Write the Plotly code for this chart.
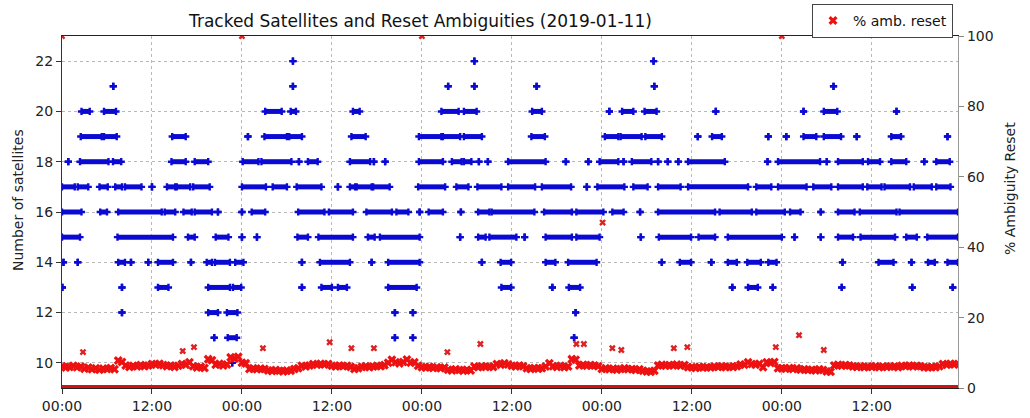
import pandas as pd
import plotly.graph_objects as go

# ---------------- data (hours since 2019-01-09 00:00) ----------------
start_day = "2019-01-09"
x_end_h = 119.5

# satellite count: spans (start_h, end_h) where each count was tracked
sat22 = [(30.8, 30.8), (55.0, 55.0), (78.9, 78.9)]
sat21 = [(6.84, 6.84), (30.8, 30.8), (51.5, 51.5), (55.0, 55.0), (63.3, 63.3), (79.0, 79.0), (102.9, 102.9)]
sat20 = [(2.6, 3.7), (5.6, 7.2), (27.1, 29.3), (30.5, 31.2), (38.8, 39.7), (50.6, 52.9), (53.6, 55.3),
         (62.7, 64.0), (73.0, 73.0), (74.7, 76.2), (77.7, 79.3), (87.2, 87.2), (98.9, 98.9), (101.6, 103.4),
         (111.3, 111.3)]
sat19 = [(2.5, 5.3), (5.6, 7.3), (14.7, 16.5), (24.8, 24.8), (27.0, 30.0), (30.3, 32.0), (38.6, 40.5),
         (47.6, 50.6), (50.8, 53.1), (53.6, 56.0), (62.6, 64.4), (72.4, 74.2), (74.5, 77.3), (77.8, 80.0),
         (84.8, 84.8), (86.7, 88.0), (94.2, 94.2), (96.6, 96.6), (98.9, 100.6), (101.6, 103.9), (106.0, 106.0),
         (110.6, 111.9), (118.1, 118.1)]
sat18 = [(0.84, 0.84), (2.4, 6.2), (6.8, 7.9), (14.6, 16.5), (17.7, 19.5), (24.1, 26.2), (26.6, 30.6),
         (31.6, 31.6), (32.8, 34.1), (38.4, 41.1), (41.6, 41.6), (43.1, 43.1), (47.6, 50.8), (52.0, 53.3),
         (53.6, 54.6), (55.6, 55.6), (56.8, 56.8), (59.5, 64.5), (67.2, 67.2), (70.2, 70.2), (71.7, 74.2),
         (74.9, 74.9), (76.0, 78.6), (79.5, 79.5), (80.8, 80.8), (82.2, 82.2), (83.5, 88.4), (94.1, 94.1),
         (95.5, 101.1), (102.0, 102.0), (103.5, 106.8), (107.5, 109.1), (110.6, 112.6), (115.0, 115.0),
         (116.6, 118.4)]
sat17 = [(0.0, 1.7), (2.1, 3.5), (5.0, 6.1), (7.1, 8.0), (8.4, 10.6), (12.0, 12.0), (14.0, 15.1), (15.3, 17.1),
         (17.5, 19.7), (24.0, 27.2), (28.1, 30.0), (31.3, 34.6), (36.8, 36.8), (38.4, 39.1), (39.3, 41.3),
         (41.5, 43.7), (47.5, 51.1), (52.6, 54.2), (55.4, 58.6), (59.5, 63.1), (64.0, 67.9), (70.0, 70.0),
         (71.4, 75.0), (76.2, 78.1), (79.5, 82.5), (83.5, 91.5), (92.6, 94.6), (95.5, 99.3), (100.2, 102.6),
         (103.5, 106.8), (107.4, 109.3), (109.7, 113.1), (113.6, 116.0), (116.6, 118.5)]
sat16 = [(0.0, 2.6), (5.1, 6.0), (7.5, 13.3), (13.7, 15.1), (16.2, 17.3), (17.7, 20.0), (20.8, 20.8),
         (24.0, 24.0), (25.3, 27.1), (31.5, 35.0), (35.6, 38.8), (40.6, 44.0), (44.6, 46.2), (47.7, 47.7),
         (48.9, 50.8), (53.2, 53.2), (55.5, 57.0), (57.3, 63.0), (64.3, 68.0), (68.6, 72.2), (73.4, 74.9),
         (77.1, 77.1), (79.5, 87.1), (87.7, 92.0), (92.6, 96.4), (97.1, 98.5), (101.2, 101.2), (103.5, 105.7),
         (106.4, 111.3), (111.7, 119.5)]
sat15 = [(0.0, 2.4), (7.4, 14.8), (16.8, 17.7), (20.5, 22.2), (24.0, 24.0), (26.0, 26.0), (31.4, 32.8),
         (34.2, 38.8), (40.8, 41.7), (42.4, 47.7), (53.1, 53.1), (55.5, 56.5), (57.0, 60.6), (61.7, 61.7),
         (64.5, 68.0), (68.6, 71.7), (77.2, 77.2), (79.6, 83.9), (84.9, 87.1), (88.8, 96.0), (97.7, 97.7),
         (101.2, 101.2), (103.5, 105.5), (106.5, 111.1), (112.6, 114.0), (115.4, 119.5)]
sat14 = [(0.2, 0.2), (2.1, 2.1), (7.5, 8.4), (9.2, 9.2), (11.5, 11.5), (12.8, 14.8), (17.2, 17.2), (19.3, 20.0),
         (20.4, 22.4), (23.1, 24.2), (32.0, 32.0), (34.4, 38.4), (41.3, 41.3), (43.5, 47.7), (56.0, 56.0),
         (58.5, 59.9), (64.5, 65.8), (67.5, 71.3), (80.0, 80.0), (82.4, 83.9), (86.6, 86.6), (88.8, 90.0),
         (91.4, 93.2), (94.2, 95.3), (104.1, 104.1), (108.9, 110.9), (113.3, 113.3), (115.5, 116.4),
         (118.1, 119.5)]
sat13 = [(0.05, 0.05), (8.0, 8.0), (12.8, 14.2), (19.5, 22.4), (22.8, 23.9), (32.0, 32.0), (34.6, 36.0),
         (36.8, 38.0), (43.5, 47.3), (58.6, 59.9), (65.4, 65.4), (67.6, 69.1), (89.4, 89.4), (91.5, 92.8),
         (94.8, 94.8), (104.0, 104.0), (113.4, 113.4), (118.8, 118.8)]
sat12 = [(8.0, 8.0), (19.5, 20.8), (22.0, 23.4), (44.4, 44.4), (46.8, 46.8), (68.5, 68.5)]
sat11 = [(20.3, 20.3), (22.1, 23.3), (44.4, 44.4), (46.8, 46.8), (68.3, 68.3)]
sat10 = [(22.7, 22.7)]

# % ambiguity reset, band read every 30 min (0.0 h ... 119.5 h)
reset_band = [
    6.2, 5.8, 6.0, 6.3, 5.9, 6.1, 5.5, 5.8, 5.3, 5.6, 5.2, 5.5, 5.4, 5.7, 5.3, 7.8, 7.4, 6.4, 6.0, 6.3, 6.1, 6.5, 6.2, 6.4,
    6.8, 6.6, 6.9, 6.5, 6.2, 6.4, 6.0, 6.3, 6.8, 6.6, 7.3, 6.2, 5.8, 6.0, 5.7, 8.2, 7.9, 6.6, 6.9, 6.4, 6.7, 8.7, 8.4, 8.9,
    7.2, 7.0, 5.4, 5.6, 5.3, 5.5, 5.4, 5.0, 4.8, 5.1, 4.9, 4.7, 5.0, 4.9, 5.4, 5.6, 6.3, 6.1, 6.4, 6.8, 6.6, 6.9, 6.7, 6.8,
    6.3, 6.1, 6.4, 6.2, 6.3, 6.0, 5.4, 5.6, 6.0, 6.2, 5.9, 6.1, 6.3, 6.2, 6.5, 7.2, 8.0, 7.3, 7.0, 7.4, 8.1, 7.2, 7.3, 6.3,
    5.9, 5.8, 6.0, 5.7, 5.9, 5.6, 5.8, 5.2, 5.0, 5.3, 5.1, 4.9, 5.2, 5.0, 6.1, 5.9, 6.2, 6.0, 6.1, 6.0, 6.8, 6.6, 7.0, 6.7,
    6.3, 6.1, 6.4, 6.2, 5.6, 5.4, 5.7, 5.5, 5.6, 6.1, 7.0, 6.2, 6.0, 6.3, 5.9, 6.1, 8.2, 8.0, 6.4, 6.6, 6.3, 6.5, 6.4, 6.2,
    5.4, 5.6, 5.3, 5.5, 5.2, 5.4, 5.6, 5.3, 5.4, 5.1, 5.3, 4.9, 4.7, 4.6, 4.9, 6.4, 6.6, 6.3, 6.5, 6.4, 6.7, 6.3, 6.5, 5.9,
    5.9, 5.7, 6.0, 5.8, 5.9, 5.8, 6.1, 6.0, 6.2, 5.9, 6.1, 6.0, 6.2, 6.7, 6.6, 7.3, 6.8, 6.6, 6.9, 5.9, 7.3, 7.1, 7.4, 5.6,
    5.6, 5.5, 5.7, 5.4, 5.6, 5.2, 5.3, 5.1, 5.2, 5.0, 5.3, 5.1, 4.7, 4.6, 6.4, 6.6, 6.3, 6.5, 6.4, 6.1, 6.0, 6.2, 5.9, 6.1,
    6.0, 6.2, 5.9, 6.1, 6.0, 6.2, 6.1, 5.9, 6.3, 6.2, 6.4, 6.1, 6.3, 6.2, 5.9, 5.8, 6.0, 5.9, 6.2, 6.8, 6.6, 6.9, 6.7, 6.8,
]
band_step_h = 0.5

# isolated reset epochs
outlier_h = [2.8, 16.1, 17.6, 26.8, 35.7, 38.6, 41.6, 51.4, 55.8, 68.6, 69.6, 72.1, 73.4, 74.6,
             81.6, 83.4, 95.2, 98.3, 101.6, 0.0, 24.0, 48.0, 96.0]
outlier_pct = [10.2, 10.5, 11.6, 11.3, 13.0, 11.3, 11.3, 10.2, 12.5, 12.5, 12.5, 47.0, 11.3, 10.8,
               11.3, 11.6, 11.6, 15.0, 10.8, 100, 100, 100, 100]

# epochs with zero resets (line along 0 %)
zero_h = [0.0, x_end_h]
zero_pct = [0, 0]

levels = [10, 11, 12, 13, 14, 15, 16, 17, 18, 19, 20, 21, 22]
spans = [sat10, sat11, sat12, sat13, sat14, sat15, sat16, sat17, sat18, sat19, sat20, sat21, sat22]

# ---------------- build ----------------
t0 = pd.Timestamp(start_day)


def T(h):
    return t0 + pd.to_timedelta(h, unit="h")


bx, by = [], []
for lev, segs in zip(levels, spans):
    for s, e in segs:
        bx += [T(s), T(e), None]
        by += [lev, lev, None]

band_h = [i * band_step_h for i in range(len(reset_band))]

BLUE = "#0a0ad2"
RED = "#ee1111"

fig = go.Figure()
fig.add_trace(go.Scatter(
    x=bx, y=by, mode="lines+markers", yaxis="y", showlegend=False,
    line=dict(color=BLUE, width=5),
    marker=dict(symbol="cross", size=6, color=BLUE, line=dict(width=0)),
    connectgaps=False,
))
fig.add_trace(go.Scatter(
    x=[T(h) for h in zero_h], y=zero_pct, mode="lines", yaxis="y2", showlegend=False,
    line=dict(color="#d41010", width=6),
))
fig.add_trace(go.Scatter(
    x=[T(h) for h in band_h], y=reset_band, mode="markers", yaxis="y2",
    name="% amb. reset",
    marker=dict(symbol="x", size=8, color=RED, line=dict(width=0)),
))
fig.add_trace(go.Scatter(
    x=[T(h) for h in outlier_h], y=outlier_pct, mode="markers", yaxis="y2", showlegend=False,
    marker=dict(symbol="x", size=6, color="#dd2222", line=dict(width=0)),
))

FONT = "DejaVu Sans"
GRID = "#b8b8b8"
ML, MR, MT, MB = 62, 72, 36, 30
W, H = 1030, 418
plot_w, plot_h = W - ML - MR, H - MT - MB


def px_x(px):
    return (px - ML) / plot_w


def px_y(py):
    return (H - MB - py) / plot_h


fig.update_layout(
    width=W, height=H,
    margin=dict(l=ML, r=MR, t=MT, b=MB, autoexpand=False),
    paper_bgcolor="white", plot_bgcolor="white",
    font=dict(family=FONT, size=14, color="#222"),
    xaxis=dict(
        type="date",
        range=[T(0), T(x_end_h)],
        tick0=T(0), dtick=12 * 3600 * 1000, tickformat="%H:%M",
        showgrid=True, gridcolor=GRID, griddash="3px,3px", gridwidth=1,
        ticks="outside", ticklen=5, tickcolor="#333",
        showline=True, linecolor="#222", linewidth=1.2, mirror=True,
        zeroline=False, tickfont=dict(size=14),
    ),
    yaxis=dict(
        range=[9, 23], tickvals=[10, 12, 14, 16, 18, 20, 22],
        showgrid=True, gridcolor=GRID, griddash="3px,3px", gridwidth=1,
        ticks="outside", ticklen=5, tickcolor="#333",
        showline=True, linecolor="#333", linewidth=1.2,
        zeroline=False, tickfont=dict(size=14),
    ),
    yaxis2=dict(
        range=[0, 100], tickvals=[0, 20, 40, 60, 80, 100],
        overlaying="y", side="right", showgrid=False,
        ticks="outside", ticklen=5, tickcolor="#888",
        showline=True, linecolor="#999", linewidth=1.2,
        zeroline=False, tickfont=dict(size=14),
    ),
    legend=dict(
        x=px_x(953), xanchor="right", y=px_y(4), yanchor="top",
        bgcolor="white", bordercolor="#444", borderwidth=1,
        font=dict(family=FONT, size=14, color="#111"),
    ),
    annotations=[
        dict(text="Tracked Satellites and Reset Ambiguities (2019-01-11)",
             x=px_x(420), y=px_y(21), xref="paper", yref="paper", showarrow=False,
             xanchor="center", yanchor="middle",
             font=dict(family=FONT, size=17, color="#111")),
        dict(text="Number of satellites", x=px_x(18), y=px_y(200), xref="paper", yref="paper",
             textangle=-90, showarrow=False, font=dict(family=FONT, size=14, color="#222"),
             xanchor="center", yanchor="middle"),
        dict(text="% Ambiguity Reset", x=px_x(1010), y=px_y(188), xref="paper", yref="paper",
             textangle=-90, showarrow=False, font=dict(family=FONT, size=14, color="#222"),
             xanchor="center", yanchor="middle"),
    ],
)

fig.write_html("out.html",
               config={"displayModeBar": False},
               post_script="document.body.style.margin='0';document.body.style.padding='0';")
